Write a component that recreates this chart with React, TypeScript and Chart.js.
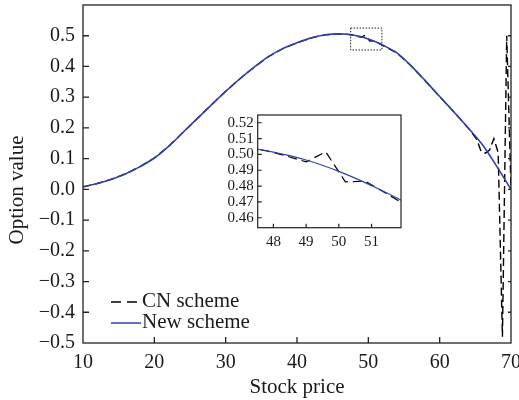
import React, { useEffect, useRef } from 'react';
import { Chart, registerables } from 'chart.js';

Chart.register(...registerables);

// ---- data ----
const newX = [10, 12, 14, 16, 18, 20, 22, 24, 26, 28, 30, 32, 34, 36, 38, 40, 42, 44, 46, 47, 48, 49, 50, 51, 52, 54, 56, 58, 60, 62, 64, 66, 68, 70];
const newY = [0.008, 0.019, 0.033, 0.051, 0.074, 0.102, 0.140, 0.185, 0.230, 0.275, 0.319, 0.360, 0.398, 0.432, 0.458, 0.477, 0.493, 0.503, 0.506, 0.5048, 0.5015, 0.4965, 0.4893, 0.4803, 0.4700, 0.444, 0.402, 0.353, 0.302, 0.252, 0.200, 0.145, 0.075, 0.000];

const cnX = [10, 12, 14, 16, 18, 20, 22, 24, 26, 28, 30, 32, 34, 36, 38, 40, 42, 44, 46, 47.2, 47.8, 48.4, 49.0, 49.6, 50.2, 50.8, 51.4, 52.0, 54, 56, 58, 60, 62, 64, 65.2, 65.8, 66.4, 67.0, 67.6, 68.2, 68.8, 69.4, 70.0];
const cnY = [0.008, 0.019, 0.033, 0.051, 0.074, 0.102, 0.140, 0.185, 0.230, 0.275, 0.319, 0.360, 0.398, 0.432, 0.458, 0.477, 0.493, 0.503, 0.506, 0.5045, 0.5022, 0.4990, 0.4953, 0.5016, 0.4827, 0.4831, 0.4760, 0.4685, 0.444, 0.402, 0.353, 0.302, 0.252, 0.200, 0.163, 0.124, 0.118, 0.128, 0.165, 0.120, -0.480, 0.500, 0.000];

const xTicks = [10, 20, 30, 40, 50, 60, 70];
const yTicks = [-0.5, -0.4, -0.3, -0.2, -0.1, 0.0, 0.1, 0.2, 0.3, 0.4, 0.5];
const insetXTicks = [48, 49, 50, 51];
const insetYTicks = [0.46, 0.47, 0.48, 0.49, 0.50, 0.51, 0.52];
const insetRange = [47.52, 51.9, 0.4537, 0.5249];
const seriesNames = ['CN scheme', 'New scheme'];
const xTitle = 'Stock price';
const yTitle = 'Option value';

const FONT = "'Liberation Serif', 'Times New Roman', serif";
const BLUE = '#3340a8';
const TXT = '#1a1a1a';

const pts = (xs: number[], ys: number[]) => xs.map((x, i) => ({ x, y: ys[i] }));

const fmtMain = (v: number) => {
  if (Math.abs(v) < 1e-9) return '0.0';
  return (v < 0 ? '\u2212' : '') + Math.abs(v).toFixed(1);
};

const noPad = (s: any) => {
  s.paddingLeft = 0;
  s.paddingRight = 0;
  s.paddingTop = 0;
  s.paddingBottom = 0;
};

function drawFrameAndTicks(chart: any, tickLen: number, rightTick: number, lw: number) {
  const { ctx, chartArea: a, scales } = chart;
  ctx.save();
  ctx.strokeStyle = '#222';
  ctx.lineWidth = lw;
  ctx.setLineDash([]);
  ctx.strokeRect(a.left, a.top, a.right - a.left, a.bottom - a.top);
  ctx.beginPath();
  scales.x.ticks.forEach((t: any) => {
    const px = scales.x.getPixelForValue(t.value);
    if (px <= a.left + 1 || px >= a.right - 1) return;
    ctx.moveTo(px, a.bottom);
    ctx.lineTo(px, a.bottom - tickLen);
  });
  scales.y.ticks.forEach((t: any) => {
    const py = scales.y.getPixelForValue(t.value);
    if (py >= a.bottom - 1 || py <= a.top + 1) return;
    ctx.moveTo(a.left, py);
    ctx.lineTo(a.left + tickLen, py);
    if (rightTick > 0) {
      ctx.moveTo(a.right, py);
      ctx.lineTo(a.right - rightTick, py);
    }
  });
  ctx.stroke();
  ctx.restore();
}

const mainPlugin = {
  id: 'mainDecor',
  afterDatasetsDraw(chart: any) {
    const { ctx, scales } = chart;
    drawFrameAndTicks(chart, 6, 3, 1.3);
    ctx.save();
    // dotted zoom box
    const x1 = scales.x.getPixelForValue(insetRange[0]);
    const x2 = scales.x.getPixelForValue(insetRange[1]);
    const y1 = scales.y.getPixelForValue(insetRange[3]);
    const y2 = scales.y.getPixelForValue(insetRange[2]);
    ctx.strokeStyle = '#222';
    ctx.lineWidth = 1;
    ctx.setLineDash([1.5, 1.5]);
    ctx.strokeRect(x1, y1, x2 - x1, y2 - y1);
    // legend
    ctx.setLineDash([10, 6]);
    ctx.lineWidth = 1.6;
    ctx.strokeStyle = '#000';
    ctx.beginPath();
    ctx.moveTo(111, 302);
    ctx.lineTo(141, 302);
    ctx.stroke();
    ctx.setLineDash([]);
    ctx.lineWidth = 1.5;
    ctx.strokeStyle = BLUE;
    ctx.beginPath();
    ctx.moveTo(111, 323);
    ctx.lineTo(141, 323);
    ctx.stroke();
    ctx.fillStyle = TXT;
    ctx.font = `21px ${FONT}`;
    ctx.textAlign = 'left';
    ctx.textBaseline = 'middle';
    ctx.fillText(seriesNames[0], 142, 301);
    ctx.fillText(seriesNames[1], 142, 322);
    // y title
    ctx.translate(17, 190);
    ctx.rotate(-Math.PI / 2);
    ctx.textAlign = 'center';
    ctx.textBaseline = 'middle';
    ctx.font = `21px ${FONT}`;
    ctx.fillText(yTitle, 0, 0);
    ctx.restore();
  },
};

const insetPlugin = {
  id: 'insetDecor',
  beforeDraw(chart: any) {
    const { ctx, chartArea: a } = chart;
    ctx.save();
    ctx.fillStyle = '#fff';
    ctx.fillRect(a.left, a.top, a.right - a.left, a.bottom - a.top);
    ctx.restore();
  },
  afterDatasetsDraw(chart: any) {
    drawFrameAndTicks(chart, 4, 0, 1.2);
  },
};

export default function App() {
  const mainRef = useRef<HTMLCanvasElement>(null);
  const insetRef = useRef<HTMLCanvasElement>(null);

  useEffect(() => {
    const datasets = (bw: number, cw: number, dash: number[]) => [
      {
        label: seriesNames[0],
        data: pts(cnX, cnY),
        borderColor: '#000',
        borderWidth: cw,
        borderDash: dash,
        pointRadius: 0,
        tension: 0,
        fill: false,
        order: 2,
      },
      {
        label: seriesNames[1],
        data: pts(newX, newY),
        borderColor: BLUE,
        borderWidth: bw,
        pointRadius: 0,
        cubicInterpolationMode: 'monotone' as const,
        fill: false,
        order: 1,
      },
    ];

    const main = new Chart(mainRef.current!, {
      type: 'line',
      data: { datasets: datasets(1.6, 1.4, [8, 4]) as any },
      options: {
        animation: false,
        responsive: false,
        devicePixelRatio: 1,
        layout: { padding: { top: 5, right: 8, left: 0, bottom: 0 } },
        plugins: { legend: { display: false }, tooltip: { enabled: false } },
        scales: {
          x: {
            type: 'linear',
            min: 10,
            max: 70,
            grid: { display: false, drawTicks: false },
            border: { display: false },
            afterBuildTicks: (s: any) => { s.ticks = xTicks.map((v) => ({ value: v })); },
            afterFit: (s: any) => { s.height = 57; noPad(s); },
            ticks: {
              autoSkip: false,
              maxRotation: 0,
              padding: 8,
              color: TXT,
              font: { family: FONT, size: 20 },
              callback: (v: any) => String(v),
            },
            title: {
              display: true,
              text: xTitle,
              color: TXT,
              font: { family: FONT, size: 21 },
              padding: { top: 0, bottom: 0 },
            },
          },
          y: {
            type: 'linear',
            min: -0.5,
            max: 0.6,
            grid: { display: false, drawTicks: false },
            border: { display: false },
            afterBuildTicks: (s: any) => { s.ticks = yTicks.map((v) => ({ value: v })); },
            afterFit: (s: any) => { s.width = 83; noPad(s); },
            ticks: {
              autoSkip: false,
              padding: 8,
              color: TXT,
              font: { family: FONT, size: 20 },
              callback: (v: any) => fmtMain(Number(v)),
            },
          },
        },
      },
      plugins: [mainPlugin],
    });

    const inset = new Chart(insetRef.current!, {
      type: 'line',
      data: { datasets: datasets(1.2, 1.2, [9, 5]) as any },
      options: {
        animation: false,
        responsive: false,
        devicePixelRatio: 1,
        layout: { padding: { top: 10, right: 14, left: 0, bottom: 0 } },
        plugins: { legend: { display: false }, tooltip: { enabled: false } },
        scales: {
          x: {
            type: 'linear',
            min: insetRange[0],
            max: insetRange[1],
            grid: { display: false, drawTicks: false },
            border: { display: false },
            afterBuildTicks: (s: any) => { s.ticks = insetXTicks.map((v) => ({ value: v })); },
            afterFit: (s: any) => { s.height = 27.3; noPad(s); },
            ticks: {
              autoSkip: false,
              maxRotation: 0,
              padding: 5,
              color: TXT,
              font: { family: FONT, size: 15 },
              callback: (v: any) => String(v),
            },
          },
          y: {
            type: 'linear',
            min: insetRange[2],
            max: insetRange[3],
            grid: { display: false, drawTicks: false },
            border: { display: false },
            afterBuildTicks: (s: any) => { s.ticks = insetYTicks.map((v) => ({ value: v })); },
            afterFit: (s: any) => { s.width = 57.7; noPad(s); },
            ticks: {
              autoSkip: false,
              padding: 4,
              color: TXT,
              font: { family: FONT, size: 15 },
              callback: (v: any) => Number(v).toFixed(2),
            },
          },
        },
      },
      plugins: [insetPlugin],
    });

    return () => {
      main.destroy();
      inset.destroy();
    };
  }, []);

  return (
    <div style={{ position: 'absolute', left: 0, top: 0, width: 519, height: 400, background: '#fff' }}>
      <canvas ref={mainRef} width={519} height={400} style={{ position: 'absolute', left: 0, top: 0 }} />
      <canvas ref={insetRef} width={215} height={150} style={{ position: 'absolute', left: 200, top: 105 }} />
    </div>
  );
}
